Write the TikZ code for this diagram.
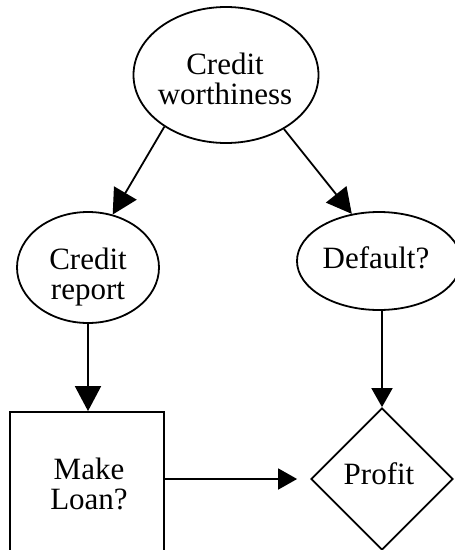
\documentclass[tikz,border=0pt]{standalone}
\usepackage{fontspec}
\setmainfont{Liberation Serif}
\usetikzlibrary{shapes.geometric,arrows.meta}
\begin{document}
\begin{tikzpicture}[x=1pt,y=-1pt,
  outline/.style={draw=black, line width=1.8pt, inner sep=0pt},
  oval/.style={outline, ellipse},
  caption/.style={inner sep=0pt, align=center, font=\fontsize{31pt}{30pt}\selectfont},
  link/.style={line width=1.8pt, -{Triangle[length=25pt,width=26pt]}},
  shortlink/.style={line width=1.8pt, -{Triangle[length=19pt,width=21pt]}}]
\useasboundingbox (0,0) rectangle (455,550);
\clip (0,0) rectangle (455,550);

% shapes
\node[oval, minimum width=185pt, minimum height=136pt] (cw) at (226,75) {};
\node[oval, minimum width=142pt, minimum height=111pt] (cr) at (88,267.5) {};
\node[oval, minimum width=164pt, minimum height=98pt] (def) at (379,261) {};
\node[outline, rectangle, minimum width=154pt, minimum height=144pt] (loan) at (87,484) {};
\node[outline, diamond, minimum width=142pt, minimum height=142pt] (profit) at (382,479) {};

% labels
\node[caption] (cwtext) at (225,79) {Credit\\worthiness};
\node[caption] (crtext) at (88,276.7) {Credit\\report};
\node[caption] (deftext) at (376,257.7) {Default?};
\node[caption] (loantext) at (89,483.7) {Make\\Loan?};
\node[caption] (profittext) at (379,473.4) {Profit};

% connectors
\draw[link] (cw.-140) -- (cr.65.4);
\draw[link] (cw.-43) -- (def.120.9);
\draw[link] (cr.south) -- (cr.south |- loan.north);
\draw[shortlink] (def.south -| profit.north) -- (profit.north);
\draw[shortlink, shorten >=13pt] (loan.east |- profit.west) -- (profit.west);
\end{tikzpicture}
\end{document}
